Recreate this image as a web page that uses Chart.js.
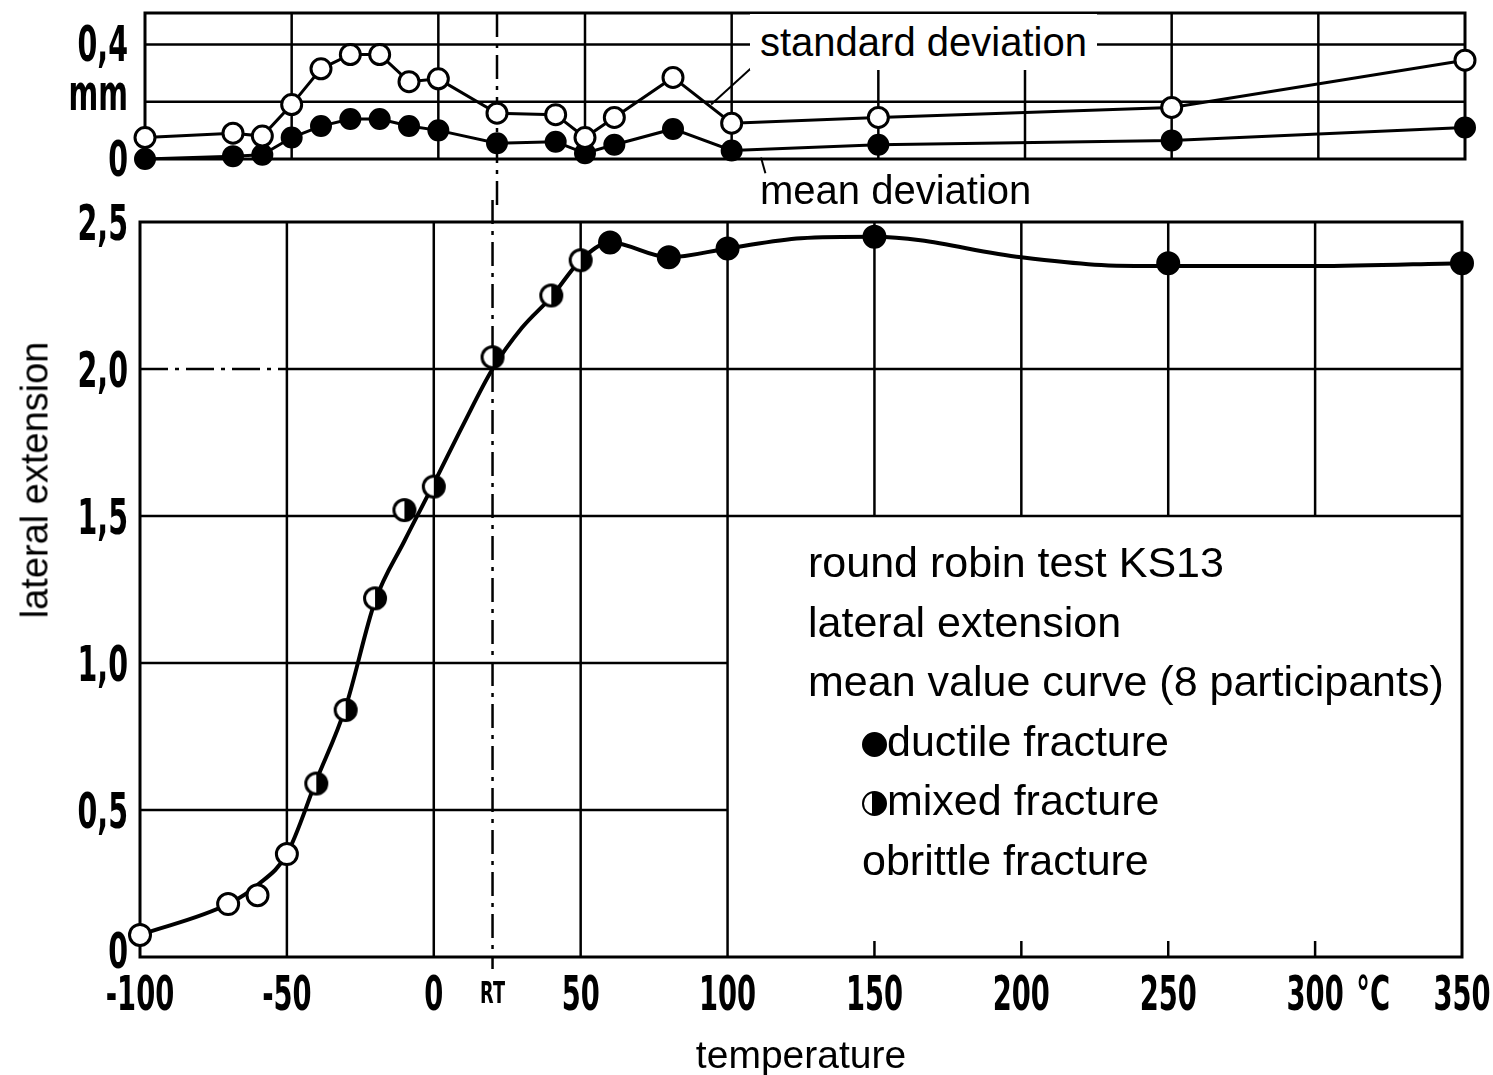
<!DOCTYPE html>
<html>
<head>
<meta charset="utf-8">
<script src="https://cdn.jsdelivr.net/npm/chart.js@4.4.1/dist/chart.umd.min.js"></script>
<style>
  html, body { margin: 0; padding: 0; background: #fff; }
  body { width: 1493px; height: 1075px; position: relative; overflow: hidden;
         font-family: 'Liberation Sans', Arial, sans-serif; color: #000; }
  .box { position: absolute; left: 0; width: 1493px; }
  #topBox { top: 0; height: 205px; }
  #mainBox { top: 200px; height: 875px; }
  .note { position: absolute; white-space: nowrap; z-index: 2; }
  #stdLabel { left: 750px; top: 14px; height: 56px; line-height: 56px; font-size: 40px;
              padding: 0 10px; background: #fff; }
  #meanLabel { left: 760px; top: 166px; line-height: 48px; font-size: 40px; }
  #yTitle { left: 35px; top: 480px; font-size: 38px; transform: translate(-50%, -50%) rotate(-90deg); }
  #legendText { left: 808px; top: 533px; font-size: 43px; line-height: 59.6px; }
  #legendText .ind { padding-left: 54px; }
  .dot { display: inline-block; width: 25px; height: 25px; border-radius: 50%; background: #000;
         box-sizing: border-box; border: 2px solid #000; vertical-align: -1px; }
  .dot.half { background: linear-gradient(90deg, #fff 0 38%, #000 38%); }
</style>
</head>
<body>
<div class="box" id="topBox"><canvas id="devChart"></canvas></div>
<div class="box" id="mainBox"><canvas id="extChart"></canvas></div>

<div class="note" id="stdLabel">standard deviation</div>
<div class="note" id="meanLabel">mean deviation</div>
<div class="note" id="yTitle">lateral extension</div>
<div class="note" id="legendText">
  <div>round robin test KS13</div>
  <div>lateral extension</div>
  <div>mean value curve (8 participants)</div>
  <div class="ind"><span class="dot"></span>ductile fracture</div>
  <div class="ind"><span class="dot half"></span>mixed fracture</div>
  <div class="ind">obrittle fracture</div>
</div>

<script>
// single results by fracture type (temperature in °C, lateral extension in mm)
const ductileTemp = [60, 80, 100, 150, 250, 350];
const ductileExt = [2.43, 2.38, 2.41, 2.45, 2.36, 2.36];
const mixedTemp = [-40, -30, -20, -10, 0, 20, 40, 50];
const mixedExt = [0.59, 0.84, 1.22, 1.52, 1.60, 2.04, 2.25, 2.37];
const brittleTemp = [-100, -70, -60, -50];
const brittleExt = [0.075, 0.18, 0.21, 0.35];

// mean value curve
const curveTemp = [-100, -70, -60, -50, -40, -30, -20, -10, 0, 10, 20, 30, 40, 50, 60, 80, 100, 125, 150, 200, 225, 250, 300, 350];
const curveExt = [0.075, 0.18, 0.245, 0.35, 0.6, 0.85, 1.21, 1.415, 1.61, 1.81, 2.0, 2.14, 2.245, 2.37, 2.43, 2.38, 2.41, 2.445, 2.45, 2.38, 2.355, 2.35, 2.35, 2.36];

// scatter between participants (mm)
const devTemp = [-100, -70, -60, -50, -40, -30, -20, -10, 0, 20, 40, 50, 60, 80, 100, 150, 250, 350];
const stdDev = [0.075, 0.09, 0.08, 0.19, 0.315, 0.365, 0.365, 0.27, 0.28, 0.16, 0.155, 0.075, 0.145, 0.285, 0.125, 0.145, 0.18, 0.345];
const meanDev = [0.0, 0.01, 0.015, 0.075, 0.115, 0.14, 0.14, 0.115, 0.10, 0.055, 0.06, 0.02, 0.05, 0.105, 0.03, 0.05, 0.065, 0.11];

// axis ticks
const tempTicks = [-100, -50, 0, 20, 50, 100, 150, 200, 250, 300, 350];
const tempTickLabels = ['-100', '-50', '0', 'RT', '50', '100', '150', '200', '250', '300', '350'];
const extTicks = [0, 0.5, 1, 1.5, 2, 2.5];
const extTickLabels = ['0', '0,5', '1,0', '1,5', '2,0', '2,5'];
const devTicks = [0, 0.2, 0.4];
const devTickLabels = ['0', 'mm', '0,4'];

const roomTemp = 20;
const SQUEEZE = 0.57; // the drawing uses a narrow stencil lettering

const pts = (xs, ys) => xs.map((t, i) => ({ x: t, y: ys[i] }));

// half filled circle for mixed fracture
function mixedMarker(r) {
  const c = document.createElement('canvas');
  const s = Math.ceil(2 * r + 5);
  c.width = s; c.height = s;
  const g = c.getContext('2d');
  const m = s / 2;
  g.beginPath(); g.arc(m, m, r, 0, Math.PI * 2); g.fillStyle = '#fff'; g.fill();
  g.beginPath(); g.moveTo(m, m - r); g.arc(m, m, r, -Math.PI / 2, Math.PI / 2); g.closePath();
  g.fillStyle = '#000'; g.fill();
  g.beginPath(); g.arc(m, m, r, 0, Math.PI * 2); g.lineWidth = 3; g.strokeStyle = '#000'; g.stroke();
  return c;
}

function line(ctx, x1, y1, x2, y2) {
  ctx.beginPath(); ctx.moveTo(x1, y1); ctx.lineTo(x2, y2); ctx.stroke();
}

// narrow tick lettering: normal text, squeezed horizontally
function narrowText(ctx, text, x, y, size, align) {
  ctx.save();
  ctx.font = `bold ${size}px 'DejaVu Sans', sans-serif`;
  ctx.fillStyle = '#000';
  ctx.textBaseline = 'alphabetic';
  ctx.textAlign = align;
  ctx.translate(x, y);
  ctx.scale(SQUEEZE, 1);
  ctx.fillText(text, 0, 0);
  ctx.restore();
}

// grid, frame, RT line and tick labels of the upper panel
const devGrid = {
  id: 'devGrid',
  beforeDatasetsDraw(chart) {
    const { ctx, chartArea: a, scales: { x, y } } = chart;
    ctx.save();
    ctx.strokeStyle = '#000';
    ctx.lineWidth = 2.5;
    [-50, 0, 50, 100, 150, 200, 250, 300].forEach(t => {
      const px = x.getPixelForValue(t);
      line(ctx, px, a.top, px, a.bottom);
    });
    [0.2, 0.4].forEach(v => line(ctx, a.left, y.getPixelForValue(v), a.right, y.getPixelForValue(v)));
    ctx.lineWidth = 3;
    ctx.strokeRect(a.left, a.top, a.width, a.height);
    ctx.lineWidth = 2.5;
    ctx.setLineDash([24, 7, 4, 7]);
    const rt = x.getPixelForValue(roomTemp);
    line(ctx, rt, a.top, rt, chart.height);
    ctx.restore();
  },
  afterDatasetsDraw(chart) {
    const { ctx, chartArea: a, scales: { x, y } } = chart;
    ctx.save();
    ctx.strokeStyle = '#000';
    ctx.lineWidth = 2;
    // leader lines to the labels
    line(ctx, x.getPixelForValue(93), y.getPixelForValue(0.19), x.getPixelForValue(108), y.getPixelForValue(0.33));
    line(ctx, x.getPixelForValue(110), y.getPixelForValue(0.005), x.getPixelForValue(111.5), y.getPixelForValue(-0.05));
    ctx.restore();
    devTicks.forEach((v, i) => {
      const label = devTickLabels[i];
      const base = y.getPixelForValue(v) + (label === 'mm' ? 8 : 17);
      narrowText(ctx, label, a.left - 17, base, 50, 'right');
    });
  }
};

// grid, frame, RT line and tick labels of the main panel
const extGrid = {
  id: 'extGrid',
  beforeDatasetsDraw(chart) {
    const { ctx, chartArea: a, scales: { x, y } } = chart;
    const px = t => x.getPixelForValue(t);
    const py = v => y.getPixelForValue(v);
    ctx.save();
    ctx.strokeStyle = '#000';
    ctx.lineWidth = 2.5;
    [-50, 0, 50, 100].forEach(t => line(ctx, px(t), a.top, px(t), a.bottom));
    [150, 200, 250, 300].forEach(t => {
      line(ctx, px(t), a.top, px(t), py(1.5));
      line(ctx, px(t), a.bottom, px(t), a.bottom - 16);
    });
    line(ctx, a.left, py(1.5), a.right, py(1.5));
    line(ctx, px(-50), py(2), a.right, py(2));
    [0.5, 1].forEach(v => line(ctx, a.left, py(v), px(100), py(v)));
    ctx.setLineDash([28, 7, 4, 7]);
    line(ctx, a.left, py(2), px(-50), py(2));
    ctx.setLineDash([24, 7, 4, 7]);
    line(ctx, px(roomTemp), 0, px(roomTemp), a.bottom + 12);
    ctx.setLineDash([]);
    ctx.lineWidth = 3;
    ctx.strokeRect(a.left, a.top, a.width, a.height);
    ctx.restore();
  },
  afterDraw(chart) {
    const { ctx, chartArea: a, scales: { x, y } } = chart;
    tempTicks.forEach((t, i) => {
      const label = tempTickLabels[i];
      if (t === roomTemp) narrowText(ctx, label, x.getPixelForValue(t), a.bottom + 46, 31, 'center');
      else narrowText(ctx, label, x.getPixelForValue(t), a.bottom + 53, 48, 'center');
    });
    narrowText(ctx, '°C', x.getPixelForValue(314), a.bottom + 53, 48, 'left');
    extTicks.forEach((v, i) => {
      const base = y.getPixelForValue(v) + (v === 0 ? 11 : 18);
      narrowText(ctx, extTickLabels[i], a.left - 12, base, 50, 'right');
    });
  }
};

new Chart(document.getElementById('devChart'), {
  type: 'scatter',
  data: {
    datasets: [{
      label: 'standard deviation',
      data: pts(devTemp, stdDev),
      showLine: true,
      borderColor: '#000',
      borderWidth: 3,
      pointRadius: 10,
      pointBorderWidth: 3,
      pointBackgroundColor: '#fff',
      clip: false
    }, {
      label: 'mean deviation',
      data: pts(devTemp, meanDev),
      showLine: true,
      borderColor: '#000',
      borderWidth: 3,
      pointRadius: 10,
      pointBorderWidth: 2,
      pointBackgroundColor: '#000',
      clip: false
    }]
  },
  options: {
    animation: false,
    responsive: true,
    maintainAspectRatio: false,
    layout: { padding: { left: 0, top: 10, right: 28, bottom: 46 } },
    plugins: { legend: { display: false }, tooltip: { enabled: false } },
    scales: {
      x: { type: 'linear', min: -100, max: 350, display: false },
      y: {
        min: 0,
        max: 0.51,
        afterBuildTicks: s => { s.ticks = devTicks.map(v => ({ value: v })); },
        afterFit: s => { s.width = 145; s.paddingTop = 0; s.paddingBottom = 0; },
        ticks: { display: false },
        grid: { display: false, drawTicks: false },
        border: { display: false }
      }
    }
  },
  plugins: [devGrid]
});

new Chart(document.getElementById('extChart'), {
  type: 'scatter',
  data: {
    datasets: [{
      label: 'ductile fracture',
      data: pts(ductileTemp, ductileExt),
      pointRadius: 11,
      pointBorderWidth: 2,
      pointBackgroundColor: '#000',
      borderColor: '#000',
      clip: false
    }, {
      label: 'mixed fracture',
      data: pts(mixedTemp, mixedExt),
      pointStyle: mixedMarker(10.5),
      pointRadius: 11,
      borderColor: '#000',
      clip: false
    }, {
      label: 'brittle fracture',
      data: pts(brittleTemp, brittleExt),
      pointRadius: 10.5,
      pointBorderWidth: 3,
      pointBackgroundColor: '#fff',
      borderColor: '#000',
      clip: false
    }, {
      label: 'mean value curve',
      data: pts(curveTemp, curveExt),
      showLine: true,
      cubicInterpolationMode: 'monotone',
      pointRadius: 0,
      borderColor: '#000',
      borderWidth: 4,
      clip: false
    }]
  },
  options: {
    animation: false,
    responsive: true,
    maintainAspectRatio: false,
    layout: { padding: { left: 0, top: 22, right: 31, bottom: 0 } },
    plugins: { legend: { display: false }, tooltip: { enabled: false } },
    scales: {
      x: {
        type: 'linear',
        min: -100,
        max: 350,
        afterBuildTicks: s => { s.ticks = tempTicks.map(v => ({ value: v })); },
        afterFit: s => { s.height = 118; s.paddingLeft = 0; s.paddingRight = 0; },
        ticks: { display: false },
        title: {
          display: true,
          text: 'temperature',
          color: '#000',
          font: { family: "'Liberation Sans', Arial, sans-serif", size: 39, lineHeight: 0.9 },
          padding: { top: 0, bottom: 0 }
        },
        grid: { display: false, drawTicks: false },
        border: { display: false }
      },
      y: {
        min: 0,
        max: 2.5,
        afterBuildTicks: s => { s.ticks = extTicks.map(v => ({ value: v })); },
        afterFit: s => { s.width = 140; s.paddingTop = 0; s.paddingBottom = 0; },
        ticks: { display: false },
        grid: { display: false, drawTicks: false },
        border: { display: false }
      }
    }
  },
  plugins: [extGrid]
});
</script>
</body>
</html>
